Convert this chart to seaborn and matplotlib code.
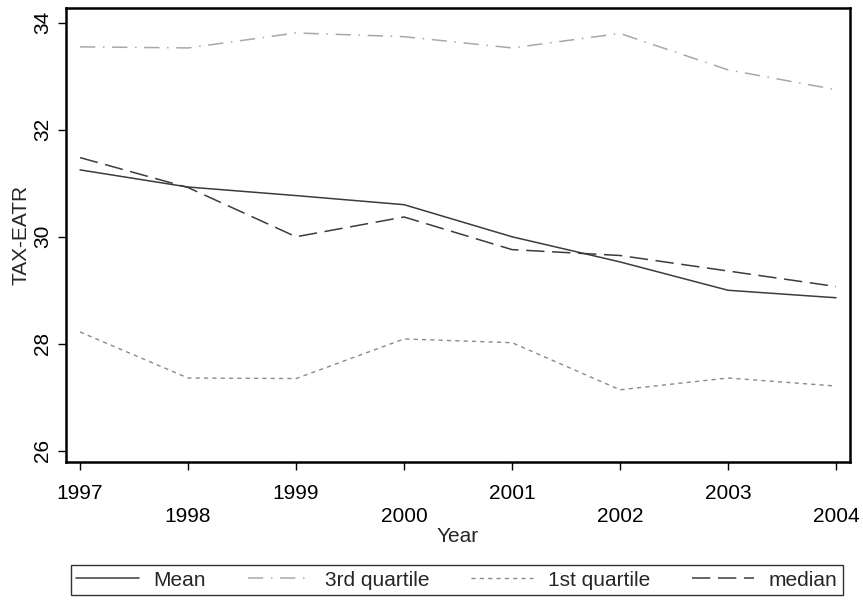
import matplotlib
matplotlib.use("Agg")
import matplotlib.pyplot as plt
from matplotlib.lines import Line2D
import seaborn as sns
import pandas as pd

years = [1997, 1998, 1999, 2000, 2001, 2002, 2003, 2004]
mean_eatr = [31.25, 30.93, 30.77, 30.60, 30.00, 29.53, 29.00, 28.86]
q3_eatr = [33.55, 33.53, 33.81, 33.74, 33.53, 33.80, 33.12, 32.75]
q1_eatr = [28.22, 27.36, 27.35, 28.09, 28.02, 27.14, 27.36, 27.21]
median_eatr = [31.48, 30.92, 30.00, 30.37, 29.76, 29.65, 29.36, 29.07]
y_ticks = [26, 28, 30, 32, 34]

sns.set_theme(style="white")
plt.rcParams["font.family"] = ["Liberation Sans", "DejaVu Sans"]

df = pd.DataFrame({
    "Year": years * 4,
    "value": mean_eatr + q3_eatr + q1_eatr + median_eatr,
    "series": (["Mean"] * 8 + ["3rd quartile"] * 8
               + ["1st quartile"] * 8 + ["median"] * 8),
})

styles = {
    "Mean": dict(color="#3c3c3c", linestyle="-", lw=1.1),
    "3rd quartile": dict(color="#a8a8a8", linestyle=(0, (10, 5, 1, 5)), lw=1.1),
    "1st quartile": dict(color="#8a8a8a", linestyle=(0, (3, 3)), lw=1.0),
    "median": dict(color="#3c3c3c", linestyle=(0, (12, 5)), lw=1.1),
}

fig = plt.figure(figsize=(8.63, 6.0), dpi=100)
ax = fig.add_axes([0.0765, 0.23, 0.9085, 0.757])

for name, st in styles.items():
    sns.lineplot(data=df[df.series == name], x="Year", y="value", ax=ax,
                 color=st["color"], linestyle=st["linestyle"],
                 linewidth=st["lw"], label=name, legend=False)

ax.set_xlim(1996.87, 2004.13)
ax.set_ylim(25.79, 34.28)
ax.set_yticks(y_ticks)
ax.set_yticklabels([str(t) for t in y_ticks], rotation=90, va="center")
ax.set_xticks(years)
ax.set_xticklabels([str(y) if i % 2 == 0 else "\n" + str(y)
                    for i, y in enumerate(years)], linespacing=1.25)
ax.tick_params(axis="both", which="both", direction="out", length=6,
               width=1.0, color="black", labelsize=15, labelcolor="black",
               bottom=True, left=True)
ax.tick_params(axis="x", pad=10)
ax.tick_params(axis="y", pad=4)
ax.set_xlabel("Year", fontsize=15, labelpad=1)
ax.set_ylabel("TAX-EATR", fontsize=15, labelpad=2)
for sp in ax.spines.values():
    sp.set_color("black")
    sp.set_linewidth(1.8)

legend_handles = [Line2D([], [], color=st["color"], linestyle=st["linestyle"],
                         linewidth=st["lw"])
                  for st in styles.values()]
leg = fig.legend(legend_handles, list(styles.keys()), ncol=4,
                 loc="center", bbox_to_anchor=(0.5296, 0.0333),
                 fontsize=15, handlelength=3.0, columnspacing=2.0,
                 frameon=True, fancybox=False, borderaxespad=0.0,
                 borderpad=0.25, handletextpad=0.7)
leg.get_frame().set_edgecolor("black")
leg.get_frame().set_linewidth(1.0)

fig.savefig("out.png", dpi=100)
